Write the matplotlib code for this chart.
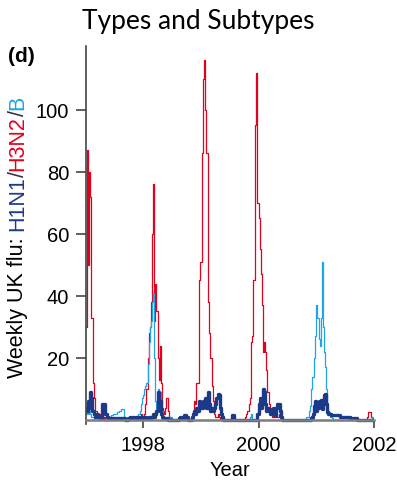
import numpy as np
import matplotlib
matplotlib.use('Agg')
import matplotlib.pyplot as plt

# weekly counts, 52 weeks per year, 1997-2001
h3n2_1997 = [30, 87, 50, 80, 72, 33, 33, 12, 7, 3, 2, 1,
             1, 2, 1, 1, 0, 1, 0, 0, 0, 0, 0, 0,
             0, 0, 0, 0, 0, 0, 0, 0, 0, 0, 0, 0,
             0, 0, 0, 0, 0, 0, 0, 0, 0, 0, 1, 0,
             1, 1, 2, 1]
h3n2_1998 = [1, 2, 5, 10, 20, 28, 30, 38, 60, 76, 32, 44,
             35, 20, 13, 24, 12, 4, 3, 2, 4, 7, 3, 1,
             1, 0, 0, 0, 0, 0, 0, 0, 1, 1, 0, 1,
             1, 0, 1, 0, 0, 0, 0, 0, 1, 3, 6, 5,
             12, 12, 45, 51]
h3n2_1999 = [51, 86, 110, 116, 100, 86, 38, 28, 20, 20, 11, 6,
             2, 1, 1, 2, 1, 0, 1, 0, 0, 0, 0, 0,
             0, 0, 0, 0, 0, 0, 0, 0, 0, 0, 0, 0,
             0, 0, 0, 0, 1, 2, 3, 5, 7, 25, 27, 45,
             45, 95, 112, 70]
h3n2_2000 = [65, 55, 47, 37, 22, 25, 22, 16, 9, 5, 4, 2,
             1, 2, 1, 1, 2, 1, 2, 1, 0, 0, 0, 0,
             0, 0, 0, 0, 0, 0, 0, 0, 0, 0, 0, 0,
             0, 0, 0, 0, 0, 0, 0, 0, 0, 0, 0, 0,
             0, 0, 0, 0]
h3n2_2001 = [0, 0, 0, 0, 0, 0, 0, 0, 0, 0, 0, 0,
             0, 0, 0, 0, 0, 0, 0, 0, 0, 0, 0, 0,
             0, 0, 0, 0, 0, 0, 0, 0, 0, 0, 0, 0,
             0, 0, 0, 0, 0, 0, 0, 0, 0, 0, 1, 2.5,
             2.5, 1, 0.5, 0]

b_1997 = [2, 3, 2, 3, 2, 1, 1, 1, 0, 0, 0, 0,
          0, 0, 0, 0, 0, 0, 0, 0, 0.5, 1, 1, 1.5,
          1.5, 2, 2, 2, 2.5, 2.5, 3, 3, 3.5, 3.5, 3.5, 1,
          0, 0, 0, 0, 0, 0, 0, 0, 0, 0, 1, 2,
          2, 3, 5, 7]
b_1998 = [8, 10, 11, 12, 18, 25, 30, 32, 38, 41, 20, 6,
          3, 10, 4, 9, 2, 3, 1, 0, 0, 0, 0, 0,
          1, 1, 0, 0, 0, 0, 0, 0, 0, 0, 0, 0,
          0, 0, 0, 0, 0, 0, 0, 0, 0, 0, 0, 0,
          0, 0, 0, 0]
b_1999 = [0, 0, 0, 0, 0, 0, 0, 0, 0, 0, 0, 0,
          0, 0, 0, 0, 0, 0, 0, 0, 0, 0, 0, 0,
          0, 0, 0, 0, 0, 0, 0, 0, 0, 0, 0, 0,
          0, 0, 0, 0, 0, 0, 0, 0, 1, 2, 0, 0,
          0, 0, 0, 0]
b_2000 = [0, 0, 0, 0, 0, 0, 0, 0, 0, 0, 0, 0,
          0, 0, 0, 0, 0, 0, 0, 0, 0, 0, 0, 0,
          0, 0, 0, 0, 0, 0, 0, 0, 0, 0, 0, 0,
          0, 0, 0, 0, 0, 0, 0, 1, 1, 3, 4.5, 10,
          14, 14, 20, 27]
b_2001 = [37, 33, 26, 24, 33, 51, 30, 22, 17, 10, 4.5, 2.5,
          1, 1, 0.5, 0, 0, 0, 0, 0, 0, 0, 0, 0,
          0, 0, 0, 0, 0, 0, 0, 0, 0, 0, 0, 0,
          0, 0, 0, 0, 0, 0, 0, 0, 0, 0, 0, 0,
          0, 0, 1, 0]

h1n1_1997 = [4, 3, 6, 4, 9, 7, 3, 3, 2, 1, 2, 1,
             1, 0.5, 1, 5, 3, 5, 2, 1, 0.5, 0.5, 0.5, 0.5,
             0.5, 0.5, 0.5, 0.5, 0.5, 0.5, 0.5, 0.5, 0.5, 0.5, 0.5, 0.5,
             0, 0, 0.5, 0.5, 1, 0.5, 0.5, 1, 0.5, 0.5, 1, 0.5,
             0.5, 1, 0.5, 1]
h1n1_1998 = [1, 0.5, 1, 0.5, 0.5, 1, 0.5, 1, 1, 2, 1, 2,
             3, 9, 4, 6, 2, 1, 0.5, 0.5, 0.5, 0.5, 0, 0,
             0, 0, 0, 0, 0, 0, 0, 0, 0.5, 1, 0.5, 0.5,
             1, 1.5, 1.5, 1, 0, 0, 0, 0, 1, 2, 3, 2,
             4, 3, 6, 4]
h1n1_1999 = [5, 4, 6, 5, 7, 4, 9, 5, 3, 3, 4, 3,
             4, 5, 7, 8.5, 8, 4, 2, 1, 0, 0, 0, 0,
             0, 0, 0, 0, 1.5, 1.5, 0, 0, 0, 0, 0, 0,
             0, 0, 0, 0, 0, 0, 0, 0, 0, 0, 0, 0,
             0, 0, 0, 2]
h1n1_2000 = [5, 7, 4, 6, 10, 9, 5, 3, 4, 3, 2, 3,
             2, 4, 3, 1.5, 4, 5, 5, 3, 1, 0, 0, 0,
             0, 0, 0, 0, 0, 0, 0, 0, 0, 0, 0, 0,
             0, 0, 0, 0, 0, 0, 0, 0, 0, 0, 0, 0.5,
             1, 2, 4.5, 6]
h1n1_2001 = [3, 4, 6, 5, 6.5, 3.5, 5, 8, 8.5, 5, 2.5, 2,
             2, 1.5, 1.5, 1.5, 1.5, 1.5, 1.5, 1.5, 1.5, 1, 1, 1,
             1, 1, 1, 1, 1, 1, 0.5, 0.5, 0.5, 0.5, 0.5, 0.5,
             0.5, 0, 0, 0, 0, 0, 0, 0, 0, 0, 0, 0,
             0, 0, 0, 0]

h3n2 = np.array(h3n2_1997 + h3n2_1998 + h3n2_1999 + h3n2_2000 + h3n2_2001, dtype=float)
flu_b = np.array(b_1997 + b_1998 + b_1999 + b_2000 + b_2001, dtype=float)
h1n1 = np.array(h1n1_1997 + h1n1_1998 + h1n1_1999 + h1n1_2000 + h1n1_2001, dtype=float)
year = 1997 + np.arange(len(h3n2)) / 52

C_RED = '#e3001b'
C_LIGHT = '#20a4e6'
C_DARK = '#1c3a8a'

plt.rcParams['font.family'] = ['Liberation Sans', 'DejaVu Sans']

fig = plt.figure(figsize=(3.97, 4.81), dpi=100)
ax = fig.add_axes([86 / 397, 56 / 481, 288 / 397, 378 / 481])

ax.step(year, h3n2, where='post', color=C_RED, lw=0.9, zorder=2)
ax.step(year, flu_b, where='post', color=C_LIGHT, lw=0.9, zorder=2.1)
ax.step(year, h1n1, where='post', color=C_DARK, lw=2.4, zorder=2.2)

ax.set_xlim(1997.01, 2002)
ax.set_ylim(-1.3, 120.6)

for s in ['top', 'right']:
    ax.spines[s].set_visible(False)
ax.spines['bottom'].set_position(('data', 0))
ax.spines['bottom'].set_color('#7f7f7f')
ax.spines['bottom'].set_linewidth(1.8)
ax.spines['bottom'].set_zorder(3)
ax.spines['left'].set_color('#444444')
ax.spines['left'].set_linewidth(1.2)

ax.set_xticks([1998, 2000, 2002])
ax.set_yticks([20, 40, 60, 80, 100])
ax.tick_params(axis='x', length=6, width=1.2, color='#444444', pad=5, labelsize=14.5)
ax.tick_params(axis='y', length=7, width=1.2, color='#444444', pad=5, labelsize=14.5)
ax.set_xlabel('Year', fontsize=14.5, labelpad=4)

fig.text(0.5, 1 - 22 / 481, 'Types and Subtypes', ha='center', va='center',
         fontsize=19, family=['Lato', 'DejaVu Sans'])
fig.text(8 / 397, 1 - 56 / 481, '(d)', ha='left', va='center',
         fontsize=15, fontweight='bold')

# multicoloured y label, stacked bottom to top
renderer = fig.canvas.get_renderer()
parts = [('Weekly UK flu:', 'black'), (' ', None), ('H1N1', C_DARK), ('/', '#333333'),
         ('H3N2', C_RED), ('/', '#333333'), ('B', C_LIGHT)]
ypos = 1 - 378 / 481
space = fig.text(0, 0, 'a a', fontsize=15.5)
nospace = fig.text(0, 0, 'aa', fontsize=15.5)
gap = (space.get_window_extent(renderer).width - nospace.get_window_extent(renderer).width) / fig.bbox.height
space.remove()
nospace.remove()
for s, c in parts:
    if c is None:
        ypos += gap
        continue
    t = fig.text(18 / 397, ypos, s, color=c, rotation=90, ha='center', va='bottom', fontsize=15.5)
    ypos += t.get_window_extent(renderer).height / fig.bbox.height

fig.savefig('out.png', dpi=100)
